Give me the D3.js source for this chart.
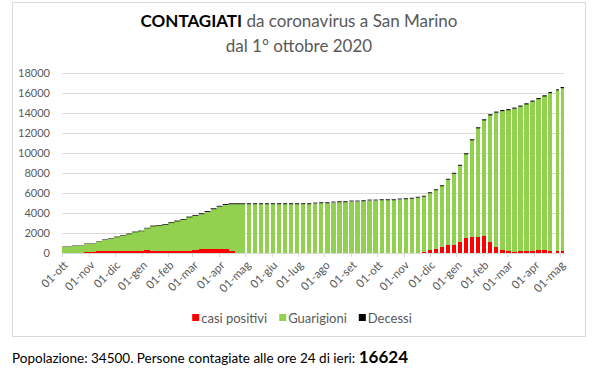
<!DOCTYPE html>
<meta charset="utf-8">
<style>
  body { margin: 0; background: #fff; }
  svg text { font-family: Lato, "Open Sans", sans-serif; }
  .axis path, .axis line { stroke: #d9d9d9; shape-rendering: crispEdges; }
  .axis text { fill: #595959; font-size: 11px; }
</style>
<body>
<svg class="chart" width="592" height="372"></svg>
<script src="https://cdn.jsdelivr.net/npm/d3@7/dist/d3.min.js"></script>
<script>

// weeks (mondays, the first one starts thursday 1 oct 2020)
var settimane = [
  "2020-10-01","2020-10-05","2020-10-12","2020-10-19","2020-10-26",
  "2020-11-02","2020-11-09","2020-11-16","2020-11-23","2020-11-30",
  "2020-12-07","2020-12-14","2020-12-21","2020-12-28",
  "2021-01-04","2021-01-11","2021-01-18","2021-01-25",
  "2021-02-01","2021-02-08","2021-02-15","2021-02-22",
  "2021-03-01","2021-03-08","2021-03-15","2021-03-22","2021-03-29",
  "2021-04-05","2021-04-12","2021-04-19","2021-04-26",
  "2021-05-03","2021-05-10","2021-05-17","2021-05-24","2021-05-31",
  "2021-06-07","2021-06-14","2021-06-21","2021-06-28",
  "2021-07-05","2021-07-12","2021-07-19","2021-07-26",
  "2021-08-02","2021-08-09","2021-08-16","2021-08-23","2021-08-30",
  "2021-09-06","2021-09-13","2021-09-20","2021-09-27",
  "2021-10-04","2021-10-11","2021-10-18","2021-10-25",
  "2021-11-01","2021-11-08","2021-11-15","2021-11-22","2021-11-29",
  "2021-12-06","2021-12-13","2021-12-20","2021-12-27",
  "2022-01-03","2022-01-10","2022-01-17","2022-01-24","2022-01-31",
  "2022-02-07","2022-02-14","2022-02-21","2022-02-28",
  "2022-03-07","2022-03-14","2022-03-21","2022-03-28",
  "2022-04-04","2022-04-11","2022-04-18","2022-04-25","2022-05-02"
];

// total infected (cumulative)
var totali = [
  710, 720, 800, 810, 1000,
  1020, 1200, 1430, 1500, 1670,
  1800, 1970, 2170, 2270,
  2550, 2770, 2800, 2930,
  3100, 3270, 3430, 3670,
  3830, 4000, 4230, 4500, 4750,
  4930, 5000, 5000, 5000,
  5000, 5000, 5000, 5000, 5000,
  5000, 5000, 5000, 5000,
  5000, 5000, 5070, 5100,
  5100, 5170, 5200, 5200, 5270,
  5270, 5300, 5370, 5370,
  5400, 5400, 5400, 5470,
  5500, 5550, 5650, 5750, 6100,
  6400, 6800, 7450, 8050,
  8850, 10000, 11400, 12600, 13400,
  13900, 14170, 14330, 14420,
  14570, 14770, 15000, 15270,
  15530, 15800, 16130, 16400, 16624
];

// active cases
var positivi = [
  0, 0, 0, 0, 130,
  180, 240, 240, 220, 240,
  240, 240, 240, 250,
  330, 230, 200, 200,
  260, 200, 200, 200,
  370, 460, 460, 460, 450,
  430, 250, 80, 20,
  0, 0, 0, 0, 0,
  0, 0, 0, 0,
  0, 0, 0, 0,
  0, 0, 0, 0, 0,
  0, 0, 0, 0,
  0, 0, 0, 0,
  0, 0, 60, 150, 300,
  430, 650, 800, 850,
  1150, 1500, 1650, 1600, 1700,
  1150, 650, 300, 230,
  170, 230, 230, 250,
  300, 300, 270, 250, 200
];

// deaths (cumulative)
var decessi = [
  42, 42, 42, 42, 42,
  44, 46, 50, 54, 58,
  60, 62, 64, 67,
  70, 72, 73, 74,
  75, 76, 77, 78,
  80, 82, 84, 86, 87,
  88, 89, 90, 90,
  90, 90, 90, 90, 90,
  90, 90, 90, 90,
  90, 90, 90, 90,
  90, 90, 90, 90, 90,
  90, 90, 90, 90,
  90, 90, 90, 90,
  90, 90, 90, 91, 91,
  92, 93, 94, 96,
  98, 100, 103, 105, 107,
  109, 110, 110, 111,
  111, 112, 112, 113,
  113, 114, 114, 115, 115
];

// days with no report
var giorniSenzaDati = ["2021-01-01", "2022-04-22", "2022-04-25", "2022-04-26"];
// from this day on the weekend is not reported
var inizioSoloFeriali = "2021-04-26";
var ultimoGiorno = "2022-05-06";

var mesiTick = [
  "2020-10-01","2020-11-01","2020-12-01","2021-01-01","2021-02-01","2021-03-01",
  "2021-04-01","2021-05-01","2021-06-01","2021-07-01","2021-08-01","2021-09-01",
  "2021-10-01","2021-11-01","2021-12-01","2022-01-01","2022-02-01","2022-03-01",
  "2022-04-01","2022-05-01"
];
var etichetteMesi = [
  "01-ott","01-nov","01-dic","01-gen","01-feb","01-mar","01-apr","01-mag",
  "01-giu","01-lug","01-ago","01-set","01-ott","01-nov","01-dic","01-gen",
  "01-feb","01-mar","01-apr","01-mag"
];
var yTicks = [0, 2000, 4000, 6000, 8000, 10000, 12000, 14000, 16000, 18000];

var serie = ["casi positivi", "Guarigioni", "Decessi"];
var colori = ["#ff0000", "#92d050", "#000000"];

var popolazione = 34500;
var contagiatiIeri = 16624;

var parse = d3.timeParse("%Y-%m-%d");

// build table
var data = settimane.map(function(s, i) {
  return {
    data: parse(s),
    "casi positivi": positivi[i],
    "Guarigioni": totali[i] - positivi[i] - decessi[i],
    "Decessi": decessi[i]
  };
});

var fine = parse(ultimoGiorno);
var soloFeriali = parse(inizioSoloFeriali);
var mancanti = giorniSenzaDati.map(function(s) { return +parse(s); });

// runs of reported days for each week
data.forEach(function(d, i) {
  var end;
  if (d.data < soloFeriali) end = parse(settimane[i + 1]);
  else end = d3.timeDay.offset(d.data, 5);
  if (end > fine) end = fine;
  var giorni = d3.timeDay.range(d.data, end);
  var runs = [], cur = null;
  giorni.forEach(function(g) {
    if (mancanti.indexOf(+g) >= 0) { cur = null; return; }
    if (!cur) { cur = [g, d3.timeDay.offset(g, 1)]; runs.push(cur); }
    else cur[1] = d3.timeDay.offset(g, 1);
  });
  d.runs = runs;
});

var svg = d3.select(".chart");

// chart frame
svg.append("rect")
  .attr("x", 12.5).attr("y", 2.5)
  .attr("width", 573).attr("height", 334)
  .attr("fill", "none")
  .attr("stroke", "#d9d9d9");

// title
var title = svg.append("text")
  .attr("x", 299).attr("y", 27)
  .attr("text-anchor", "middle")
  .style("font-size", "17px")
  .attr("fill", "#595959");
title.append("tspan").style("font-weight", "bold").attr("fill", "#000").text("CONTAGIATI");
title.append("tspan").text(" da coronavirus a San Marino");
svg.append("text")
  .attr("x", 299).attr("y", 52)
  .attr("text-anchor", "middle")
  .style("font-size", "17px")
  .attr("fill", "#595959")
  .text("dal 1° ottobre 2020");

var x = d3.scaleTime()
  .domain([parse("2020-10-01"), fine])
  .range([62.3, 564]);

var y = d3.scaleLinear()
  .domain([0, 18000])
  .range([253.3, 73.3]);

// gridlines
svg.append("g")
  .selectAll("line")
  .data(yTicks.slice(1))
  .enter().append("line")
  .attr("x1", x.range()[0]).attr("x2", x.range()[1])
  .attr("y1", function(d) { return Math.round(y(d)) + 0.5; })
  .attr("y2", function(d) { return Math.round(y(d)) + 0.5; })
  .attr("stroke", "#d9d9d9");

// y labels
svg.append("g")
  .selectAll("text")
  .data(yTicks)
  .enter().append("text")
  .attr("x", 50)
  .attr("y", function(d) { return y(d); })
  .attr("dy", "0.35em")
  .attr("text-anchor", "end")
  .attr("fill", "#595959")
  .style("font-size", "11px")
  .text(function(d) { return d; });

// stacked bars
var stack = d3.stack().keys(serie)(data);

stack.forEach(function(layer, k) {
  var g = svg.append("g")
    .attr("fill", colori[k])
    .style("shape-rendering", k < 2 ? "crispEdges" : "auto");
  layer.forEach(function(p) {
    if (p[1] - p[0] <= 0) return;
    p.data.runs.forEach(function(r) {
      g.append("rect")
        .attr("x", x(r[0]))
        .attr("width", x(r[1]) - x(r[0]))
        .attr("y", y(p[1]))
        .attr("height", y(p[0]) - y(p[1]));
    });
  });
});

// x axis
var xAxis = d3.axisBottom(x)
  .tickValues(mesiTick.map(parse))
  .tickSize(4)
  .tickSizeOuter(0)
  .tickFormat(function(d, i) { return etichetteMesi[i]; });

var gx = svg.append("g")
  .attr("class", "axis")
  .attr("transform", "translate(0," + Math.round(y(0)) + ")")
  .call(xAxis);
gx.select(".domain").attr("stroke", "#d9d9d9");
gx.selectAll("text")
  .attr("x", 0).attr("y", 0)
  .attr("dy", "0.35em")
  .attr("transform", "translate(3,10) rotate(-45)")
  .style("text-anchor", "end")
  .style("font-size", "11.5px")
  .style("font-family", "Lato, sans-serif");

// legend
var legend = svg.append("g").attr("transform", "translate(0,318)");
var lx = 0;
serie.forEach(function(s, i) {
  var item = legend.append("g").attr("transform", "translate(" + lx + ",0)");
  item.append("rect").attr("x", 0).attr("y", -4).attr("width", 7).attr("height", 7).attr("fill", colori[i]);
  var t = item.append("text").attr("x", 9).attr("y", 0).attr("dy", "0.35em")
    .attr("fill", "#595959").style("font-size", "13px").text(s);
  lx += 9 + t.node().getComputedTextLength() + 12;
});
legend.attr("transform", "translate(" + (302 - (lx - 12) / 2) + ",318)");

// footer
var foot = svg.append("text")
  .attr("x", 12).attr("y", 363)
  .attr("fill", "#000")
  .style("font-size", "13.5px");
foot.append("tspan").text("Popolazione: " + popolazione + ". Persone contagiate alle ore 24 di ieri: ");
foot.append("tspan").style("font-weight", "bold").style("font-size", "17px").text(contagiatiIeri);

</script>
</body>
